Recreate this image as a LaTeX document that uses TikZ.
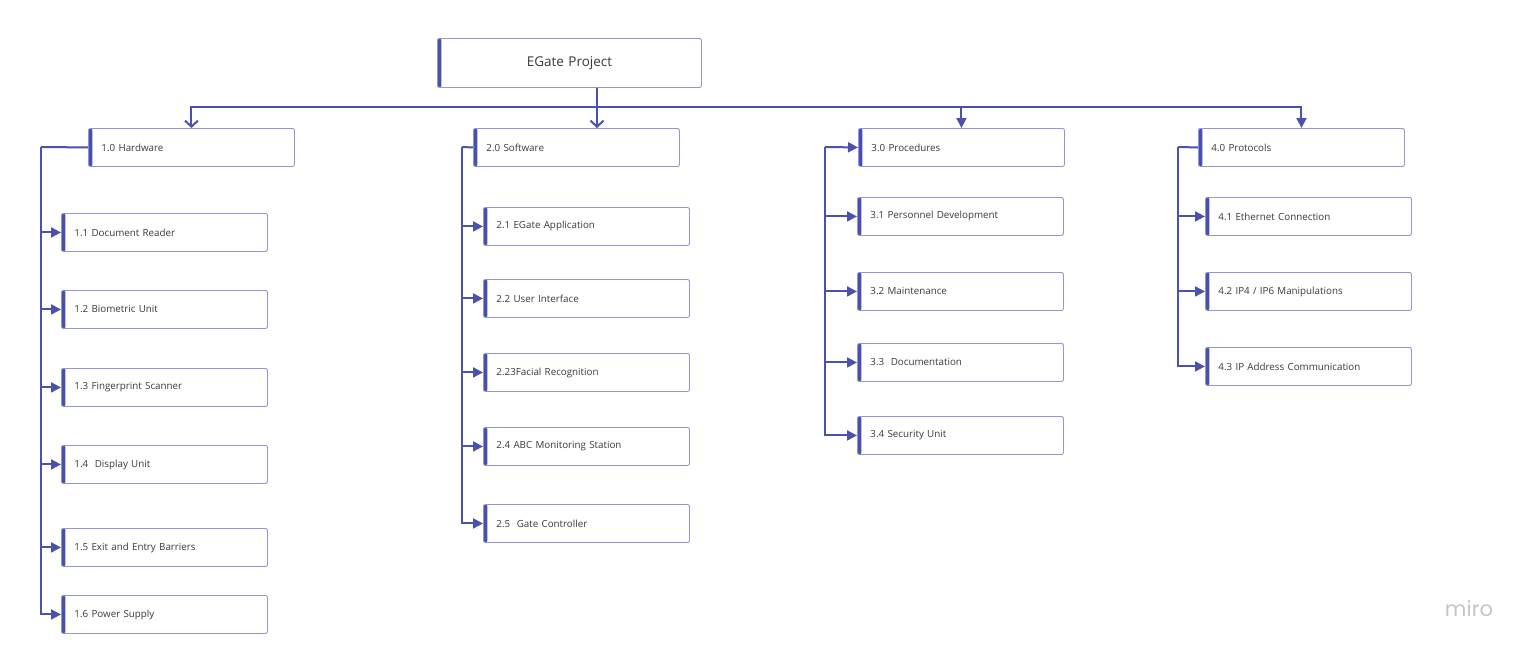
\documentclass[tikz,border=0pt]{standalone}
\usepackage{fontspec}
\setmainfont{Open Sans}
\newfontfamily\logofont{Poppins}
\usetikzlibrary{arrows.meta}
\definecolor{linecol}{HTML}{4A51AE}
\definecolor{bordercol}{HTML}{9296D2}
\definecolor{barcol}{HTML}{4750B0}
\definecolor{txtcol}{HTML}{3A3A3A}
\definecolor{logocol}{HTML}{C4C4CE}
\tikzset{
  wbs/.style={draw=bordercol, line width=0.9pt, rounded corners=2pt, fill=white,
    anchor=north west, rectangle, minimum height=38pt, minimum width=206pt,
    inner xsep=13pt, inner ysep=0pt, text width=180pt, align=left,
    font=\fontsize{9.8}{11}\selectfont, text=txtcol,
    path picture={\fill[barcol] (path picture bounding box.north west) rectangle ([xshift=4pt]path picture bounding box.south west);}},
  topbox/.style={wbs, minimum width=264pt, minimum height=49pt, text width=238pt,
    align=center, font=\fontsize{13.5}{15}\selectfont},
  conn/.style={draw=linecol, line width=2pt},
  tri/.style={conn, -{Triangle[length=10pt,width=10pt]}},
  vee/.style={conn, -{Straight Barb[length=6pt,width=13pt]}}
}
\begin{document}
\begin{tikzpicture}[x=1pt,y=-1pt]
\useasboundingbox (0,0) rectangle (1530,653);
\fill[white] (0,0) rectangle (1530,653);

% top
\node[topbox] (eg) at (437,38) {EGate Project};
\node[wbs] (h1) at (88,128) {1.0 Hardware};
\node[wbs] (h2) at (473,128) {2.0 Software};
\node[wbs] (h3) at (858,128) {3.0 Procedures};
\node[wbs] (h4) at (1198,128) {4.0 Protocols};

% 1.x
\node[wbs] (c11) at (61,213) {1.1 Document Reader};
\node[wbs] (c12) at (61,290) {1.2 Biometric Unit};
\node[wbs] (c13) at (61,368) {1.3 Fingerprint Scanner};
\node[wbs] (c14) at (61,445) {1.4~ Display Unit};
\node[wbs] (c15) at (61,528) {1.5 Exit and Entry Barriers};
\node[wbs] (c16) at (61,595) {1.6 Power Supply};

% 2.x
\node[wbs] (c21) at (483,207) {2.1 EGate Application};
\node[wbs] (c22) at (483,279) {2.2 User Interface};
\node[wbs] (c23) at (483,353) {2.23Facial Recognition};
\node[wbs] (c24) at (483,427) {2.4 ABC Monitoring Station};
\node[wbs] (c25) at (483,504) {2.5~ Gate Controller};

% 3.x
\node[wbs] (c31) at (857,197) {3.1 Personnel Development};
\node[wbs] (c32) at (857,272) {3.2 Maintenance};
\node[wbs] (c33) at (857,343) {3.3~ Documentation};
\node[wbs] (c34) at (857,416) {3.4 Security Unit};

% 4.x
\node[wbs] (c41) at (1205,197) {4.1 Ethernet Connection};
\node[wbs] (c42) at (1205,272) {4.2 IP4 / IP6 Manipulations};
\node[wbs] (c43) at (1205,347) {4.3 IP Address Communication};

\node[font=\logofont\fontsize{21}{22}\selectfont, text=logocol, inner sep=0pt] (logo) at (1469,609) {miro};

% top connectors
\coordinate (hub) at (597,107);
\draw[conn] (eg.south -| hub) -- (hub);
\draw[vee] (hub) -| (h1.north);
\draw[vee] (hub) -- (hub |- h2.north);
\draw[tri] (hub) -| (h3.north);
\draw[tri] (hub) -| (h4.north);

% section 1
\coordinate (b1) at (41,147);
\draw[conn] (h1.west) -- (b1);
\foreach \c in {c11,c12,c13,c14,c15,c16}{\draw[tri] (b1) |- (\c.west);}

% section 2
\coordinate (b2) at (462,147);
\draw[conn] (h2.west) -- (b2);
\foreach \c in {c21,c22,c23,c24,c25}{\draw[tri] (b2) |- (\c.west);}

% section 3
\coordinate (b3) at (825,147);
\draw[tri] (b3) -- (h3.west);
\foreach \c in {c31,c32,c33,c34}{\draw[tri] (b3) |- (\c.west);}

% section 4
\coordinate (b4) at (1178,147);
\draw[conn] (h4.west) -- (b4);
\foreach \c in {c41,c42,c43}{\draw[tri] (b4) |- (\c.west);}
\end{tikzpicture}
\end{document}
